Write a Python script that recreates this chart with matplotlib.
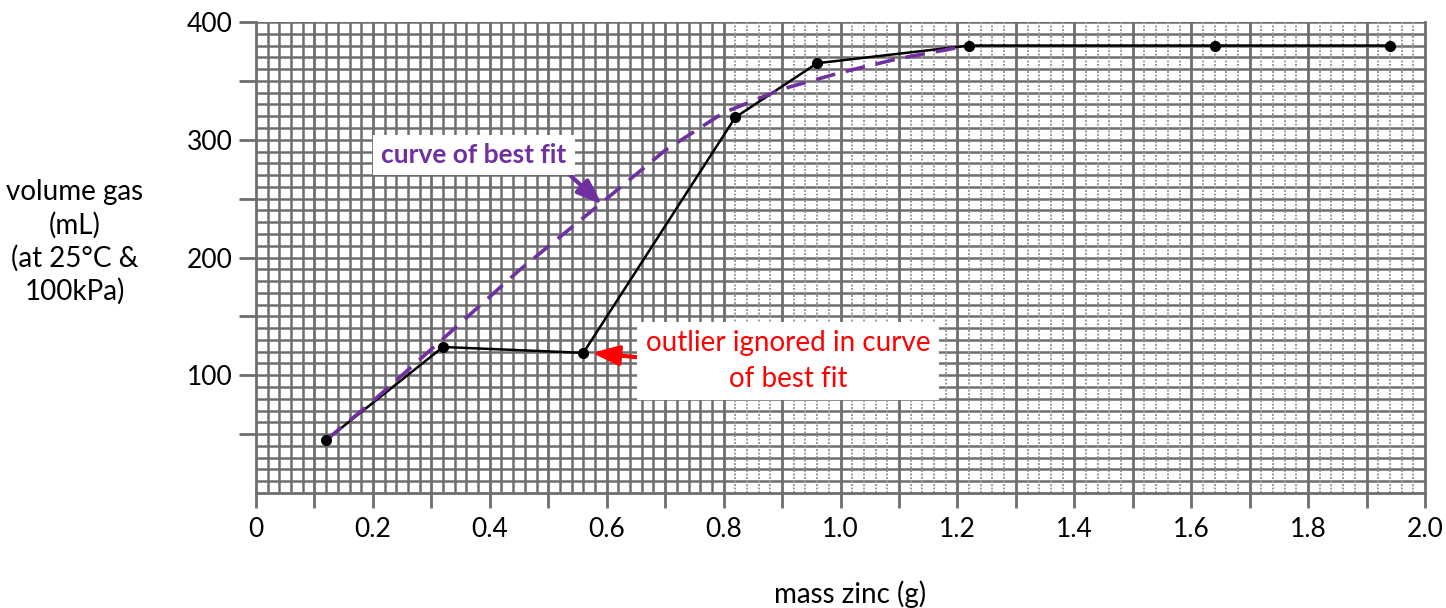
import numpy as np
import matplotlib
matplotlib.use("Agg")
import matplotlib.pyplot as plt

# data
mass_zinc = [0.12, 0.32, 0.56, 0.82, 0.96, 1.22, 1.64, 1.94]
volume_gas = [45, 124, 119, 319, 365, 380, 380, 380]

fit_x = [0.12, 0.20, 0.32, 0.45, 0.60, 0.70, 0.80, 0.90, 1.00, 1.10, 1.22]
fit_y = [45, 78, 131, 189, 250, 291, 323, 343, 357, 369, 380]

x_tick_vals = [0, 0.2, 0.4, 0.6, 0.8, 1.0, 1.2, 1.4, 1.6, 1.8, 2.0]
x_tick_labels = ["0", "0.2", "0.4", "0.6", "0.8", "1.0", "1.2", "1.4", "1.6", "1.8", "2.0"]
y_tick_vals = [100, 200, 300, 400]
y_tick_labels = ["100", "200", "300", "400"]

plt.rcParams['font.family'] = ['Lato', 'DejaVu Sans']

fig = plt.figure(figsize=(14.46, 6.08), dpi=100)
ax = fig.add_axes([256/1446, (608-493)/608, (1425-256)/1446, (493-22)/608])
ax.set_xlim(0, 2.0)
ax.set_ylim(0, 400)

grid_c = '#6e6e6e'
# horizontal grid lines every 10
for yv in np.arange(10, 401, 10):
    ax.axhline(yv, color=grid_c, lw=1.8, zorder=1)
# vertical lines
for xv in np.round(np.arange(0.02, 2.0, 0.02), 2):
    major = abs(xv*10 - round(xv*10)) < 1e-6
    if major:
        ax.axvline(xv, color=grid_c, lw=2.0, zorder=1)
    elif xv < 0.8:
        ax.axvline(xv, color=grid_c, lw=1.8, zorder=1)
    else:
        ax.axvline(xv, color='#9a9a9a', lw=1.4, ls=(0, (1.0, 0.8)), zorder=1)

for s in ['left', 'bottom', 'right', 'top']:
    ax.spines[s].set_color(grid_c)
    ax.spines[s].set_linewidth(2.0)
ax.spines['top'].set_visible(False)

xt = np.round(np.arange(0, 2.01, 0.1), 1)
ax.set_xticks(xt)
ax.set_xticklabels([x_tick_labels[x_tick_vals.index(v)] if v in x_tick_vals else "" for v in xt])
yt = list(range(50, 401, 50))
ax.set_yticks(yt)
ax.set_yticklabels([y_tick_labels[y_tick_vals.index(v)] if v in y_tick_vals else "" for v in yt])
ax.tick_params(axis='both', direction='out', length=12, width=2.0, color=grid_c,
               labelsize=19, pad=5)
ax.tick_params(axis='x', length=11, pad=6)

# data line
ax.plot(mass_zinc, volume_gas, color='black', lw=1.8, zorder=3)
ax.plot(fit_x, fit_y, color='#7030A0', lw=2.6, ls=(0, (5.5, 3)), zorder=4)
ax.plot(mass_zinc, volume_gas, 'o', color='black', ms=7, zorder=5)

# annotations
ax.annotate("curve of best fit", xy=(0.592, 245), xytext=(0.373, 287),
            fontsize=19, fontweight='bold', color='#7030A0', ha='center', va='center',
            bbox=dict(boxstyle='square,pad=0.3', fc='white', ec='none'),
            arrowprops=dict(arrowstyle='-|>,head_length=0.8,head_width=0.3', color='#7030A0', lw=3,
                            shrinkA=0, shrinkB=0, relpos=(0.97, 0.0)), zorder=6)

ax.annotate("outlier ignored in curve\nof best fit", xy=(0.575, 119), xytext=(0.91, 112),
            fontsize=20, color='#FF0000', ha='center', va='center', linespacing=1.45,
            bbox=dict(boxstyle='square,pad=0.3', fc='white', ec='none'),
            arrowprops=dict(arrowstyle='-|>,head_length=0.8,head_width=0.3', color='#FF0000', lw=3,
                            shrinkA=0, shrinkB=0, relpos=(0.0, 0.55)), zorder=6)

fig.text(75/1446, (608-242)/608, "volume gas\n(mL)\n(at 25°C &\n100kPa)", ha='center', va='center',
         fontsize=20, linespacing=1.3)
fig.text(850/1446, (608-594)/608, "mass zinc (g)", ha='center', va='center', fontsize=20)

fig.savefig("out.png", dpi=100)
